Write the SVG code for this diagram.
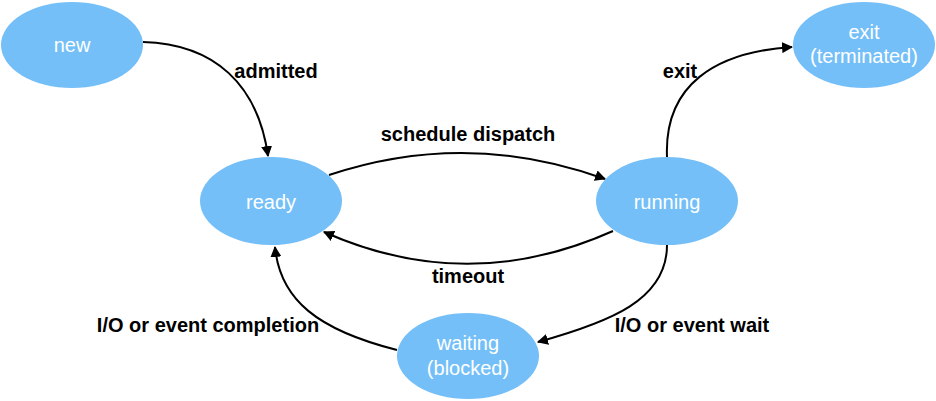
<svg xmlns="http://www.w3.org/2000/svg" width="936" height="401" viewBox="0 0 936 401">
<defs>
<style>
.node{fill:#74BFF8;}
.nt{font-family:"Liberation Sans",Arial,sans-serif;font-size:20px;fill:#ffffff;text-anchor:middle;}
.lbl{font-family:"Liberation Sans",Arial,sans-serif;font-size:20px;font-weight:bold;fill:#000000;text-anchor:middle;}
.edge{fill:none;stroke:#000000;stroke-width:2;marker-end:url(#arr);}
</style>
<marker id="arr" viewBox="0 0 10 10" refX="9" refY="5" markerWidth="5.5" markerHeight="5.5" orient="auto" markerUnits="strokeWidth">
<path d="M0,0 L10,5 L0,10 z" fill="#000000"/>
</marker>
</defs>
<rect width="936" height="401" fill="#ffffff"/>
<g id="connectors">
<path class="edge" d="M143,42 C215,44 258,85 268,156"/>
<path class="edge" d="M329,175 Q467,129 605,179"/>
<path class="edge" d="M613,231 Q468,296 324,232"/>
<path class="edge" d="M667,157 C664,85 715,52 792,47"/>
<path class="edge" d="M667,245 C667,300 610,322 538,342"/>
<path class="edge" d="M397,350 C318,330 280,300 275,247"/>
</g>
<g id="labels">
<text class="lbl" x="276" y="78">admitted</text>
<text class="lbl" x="468" y="141">schedule dispatch</text>
<text class="lbl" x="468" y="283">timeout</text>
<text class="lbl" x="680" y="78">exit</text>
<text class="lbl" x="208" y="332">I/O or event completion</text>
<text class="lbl" x="692" y="332">I/O or event wait</text>
</g>
<g id="new"><ellipse class="node" cx="72" cy="45" rx="71" ry="43"/><text class="nt" x="72" y="52">new</text></g>
<g id="ready"><ellipse class="node" cx="271" cy="201" rx="71" ry="44"/><text class="nt" x="271" y="209">ready</text></g>
<g id="running"><ellipse class="node" cx="667" cy="201" rx="71" ry="44"/><text class="nt" x="667" y="209">running</text></g>
<g id="exit"><ellipse class="node" cx="864" cy="45" rx="71" ry="43"/><text class="nt" x="864" y="39">exit</text><text class="nt" x="864" y="63">(terminated)</text></g>
<g id="waiting"><ellipse class="node" cx="468" cy="356" rx="71" ry="43"/><text class="nt" x="468" y="350">waiting</text><text class="nt" x="468" y="375">(blocked)</text></g>
</svg>
